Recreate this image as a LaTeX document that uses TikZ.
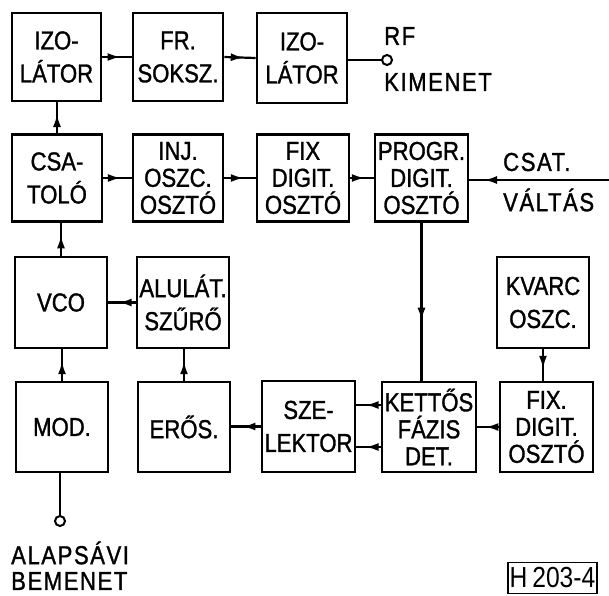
\documentclass[tikz,border=0pt]{standalone}
\usepackage{fontspec}
\setmainfont{Liberation Sans}[FakeStretch=0.85,FakeBold=1.2]
\newfontfamily\idfont{Liberation Sans}[FakeStretch=0.85]
\usetikzlibrary{arrows.meta,decorations.markings}
\begin{document}
\begin{tikzpicture}[x=1pt,y=-1pt,
 box/.style={draw,line width=2.6pt,inner sep=0pt,align=center,font=\fontsize{26}{33}\selectfont},
 box3/.style={box,font=\fontsize{26}{27}\selectfont},
 conn/.style={line width=2.2pt},
 sig/.style={conn,postaction={decorate},decoration={markings,mark=at position 0.62 with {\arrow{Latex[length=13pt,width=8pt]}}}},
 lbl/.style={font=\addfontfeatures{LetterSpace=6}\fontsize{26}{26}\selectfont,inner sep=0pt,anchor=west},
 term/.style={circle,draw,line width=2pt,minimum size=10pt,inner sep=0pt,fill=white}
]
\useasboundingbox (0,0) rectangle (609,595);

% row 1
\node[box,minimum width=89pt,minimum height=88pt] (izo1) at (56.5,57) {IZO-\\LÁTOR};
\node[box,minimum width=90pt,minimum height=88pt] (fr) at (178,57) {FR.\\SOKSZ.};
\node[box,minimum width=90pt,minimum height=90pt] (izo2) at (302,58) {IZO-\\LÁTOR};
% row 2
\node[box,minimum width=90pt,minimum height=87pt] (csat) at (57,178) {CSA-\\TOLÓ};
\node[box3,minimum width=90pt,minimum height=87pt] (inj) at (178,178) {INJ.\\OSZC.\\OSZTÓ};
\node[box3,minimum width=92pt,minimum height=87pt] (fix1) at (303,178) {FIX\\DIGIT.\\OSZTÓ};
\node[box3,minimum width=93pt,minimum height=87pt] (progr) at (421.5,178) {PROGR.\\DIGIT.\\OSZTÓ};
% row 3
\node[box,minimum width=92pt,minimum height=91pt] (vco) at (61,302.5) {VCO};
\node[box,minimum width=92pt,minimum height=91pt] (alul) at (183,302.5) {ALULÁT.\\SZŰRŐ};
\node[box,minimum width=92pt,minimum height=91pt] (kvarc) at (543,302.5) {KVARC\\OSZC.};
% row 4
\node[box,minimum width=92pt,minimum height=90pt] (mod) at (62,427) {MOD.};
\node[box,minimum width=92pt,minimum height=90pt] (eros) at (184,427) {ERŐS.};
\node[box,minimum width=93pt,minimum height=91pt] (szel) at (308.5,426.5) {SZE-\\LEKTOR};
\node[box3,minimum width=94pt,minimum height=90pt] (kett) at (429,427) {KETTŐS\\FÁZIS\\DET.};
\node[box3,minimum width=93pt,minimum height=90pt] (fix2) at (546.5,427) {FIX.\\DIGIT.\\OSZTÓ};

% terminals
\node[term] (rf) at (387,60) {};
\node[term] (bb) at (60,521) {};
\coordinate (csv) at (609,180);
\coordinate (csvm) at (508,180);

% connectors
\draw[sig] (izo1.east) -- (fr.west);
\draw[sig] (fr.east) -- (izo2.west);
\draw[conn] (izo2.east |- rf) -- (rf.west);
\draw[sig] (csat.north) -- (csat.north |- izo1.south);
\draw[sig] (csat.east |- inj) -- (inj.west);
\draw[sig] (inj.east) -- (fix1.west);
\draw[sig] (fix1.east) -- (progr.west);
\draw[conn] (csv) -- (csvm);
\draw[sig] (csvm) -- (csvm -| progr.east);
\draw[sig] (progr.south) -- (progr.south |- kett.north);
\draw[sig] (vco.north) -- (vco.north |- csat.south);
\draw[sig] (alul.west) -- (alul.west -| vco.east);
\draw[sig] (mod.north) -- (mod.north |- vco.south);
\draw[sig] (eros.north) -- (eros.north |- alul.south);
\draw[sig] (kvarc.south) -- (kvarc.south |- fix2.north);
\draw[sig] (fix2.west) -- (fix2.west -| kett.east);
\draw[sig] ([yshift=22pt]kett.west) -- ([yshift=22pt]kett.west -| szel.east);
\draw[sig] ([yshift=-20pt]kett.west) -- ([yshift=-20pt]kett.west -| szel.east);
\draw[sig] (szel.west) -- (szel.west -| eros.east);
\draw[conn] (bb.north) -- (bb.north |- mod.south);

% labels
\node[lbl] (lrf) at (384,36) {RF};
\node[lbl] (lkim) at (384,82) {KIMENET};
\node[lbl] (lcsat) at (503,162) {CSAT.};
\node[lbl] (lvalt) at (503,200) {VÁLTÁS};
\node[lbl] (lalap) at (11,553) {ALAPSÁVI};
\node[lbl] (lbem) at (11,581) {BEMENET};
\node[draw,line width=1.8pt,minimum width=89pt,minimum height=31pt,inner sep=0pt,font=\idfont\fontsize{29}{29}\selectfont] (id) at (552.5,578) {H\,203-4};
\end{tikzpicture}
\end{document}
